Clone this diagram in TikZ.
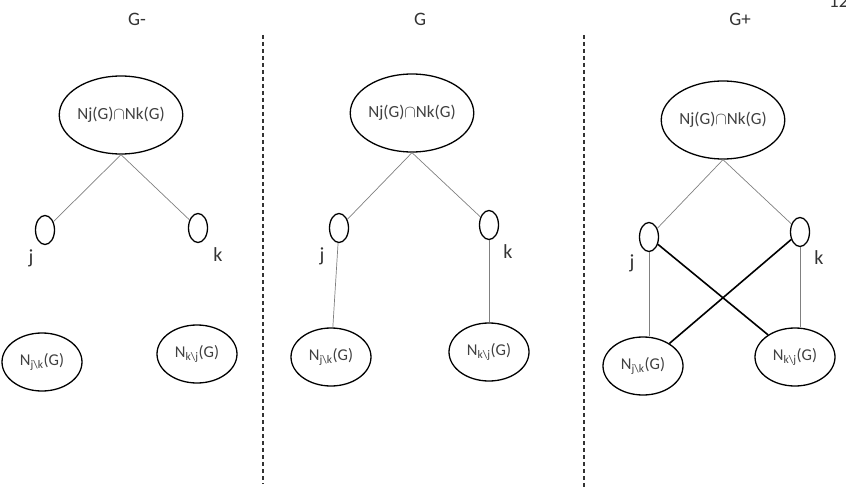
\documentclass[tikz,border=0pt]{standalone}
\usepackage{fontspec}
\setmainfont{Carlito}
\usepackage{tikz}
\usetikzlibrary{shapes.geometric,positioning}

\begin{document}
\begin{tikzpicture}[x=1pt,y=-1pt,
  inter/.style={draw,ellipse,line width=1.3pt,inner sep=0pt,
                minimum width=118pt,minimum height=78pt,
                font=\fontsize{17}{19}\selectfont,text=black!75},
  vert/.style={draw,ellipse,line width=1.3pt,inner sep=0pt,
               minimum width=19pt,minimum height=29pt},
  nbr/.style={draw,ellipse,line width=1.3pt,inner sep=0pt,
              minimum width=80pt,minimum height=58pt,
              font=\fontsize{16.5}{18}\selectfont,text=black!75},
  vlbl/.style={font=\fontsize{20}{22}\selectfont,text=black!80},
  title/.style={font=\fontsize{19}{21}\selectfont,text=black!80},
  thin/.style={draw=black!50,line width=0.7pt},
  thick/.style={draw=black,line width=1.6pt},
  sep/.style={draw=black!80,line width=1.2pt,dash pattern=on 4pt off 3pt}
]
\useasboundingbox (0,0) rectangle (846,492);

% Titel
\node[title] (tm) at (137,19) {G-};
\node[title] (t0) at (420,19) {G};
\node[title] (tp) at (740,19) {G+};
\node[title,anchor=base west,inner sep=0pt] (pg) at (829,8) {12};

% Trennlinien
\coordinate (s1a) at (263,35);
\coordinate (s1b) at (263,484);
\coordinate (s2a) at (584,35);
\coordinate (s2b) at (584,487);
\draw[sep] (s1a) -- (s1b);
\draw[sep] (s2a) -- (s2b);

% G-
\node[inter] (im) at (121,115) {Nj(G)$\cap$Nk(G)};
\node[vert] (jm) at (45,230) {};
\node[vert] (km) at (198,228) {};
\node[vlbl] (ljm) at (31,258) {j};
\node[vlbl] (lkm) at (218,255) {k};
\node[nbr] (njm) at (42,362) {N\textsubscript{j\textbackslash k}(G)};
\node[nbr] (nkm) at (197,354) {N\textsubscript{k\textbackslash j}(G)};
\draw[thin] (im.south) -- (jm);
\draw[thin] (im.south) -- (km);

% G
\node[inter] (i0) at (412,113) {Nj(G)$\cap$Nk(G)};
\node[vert] (j0) at (339,228) {};
\node[vert] (k0) at (489,225) {};
\node[vlbl] (lj0) at (322,256) {j};
\node[vlbl] (lk0) at (508,252) {k};
\node[nbr] (nj0) at (331,357) {N\textsubscript{j\textbackslash k}(G)};
\node[nbr] (nk0) at (489,352) {N\textsubscript{k\textbackslash j}(G)};
\draw[thin] (i0.south) -- (j0);
\draw[thin] (i0.south) -- (k0);
\draw[thin] (j0) -- (nj0);
\draw[thin] (k0) -- (nk0);

% G+
\node[inter] (ip) at (723,120) {Nj(G)$\cap$Nk(G)};
\node[vert] (jp) at (649,237) {};
\node[vert] (kp) at (800,232) {};
\node[vlbl] (ljp) at (632,263) {j};
\node[vlbl] (lkp) at (819,258) {k};
\node[nbr] (njp) at (643,366) {N\textsubscript{j\textbackslash k}(G)};
\node[nbr] (nkp) at (795,357) {N\textsubscript{k\textbackslash j}(G)};
\draw[thin] (ip.south) -- (jp);
\draw[thin] (ip.south) -- (kp);
\draw[thin] (jp) -- (jp |- njp.north);
\draw[thin] (kp) -- (kp |- nkp.north);
\draw[thick] (jp) -- (nkp);
\draw[thick] (kp) -- (njp);

\end{tikzpicture}
\end{document}
